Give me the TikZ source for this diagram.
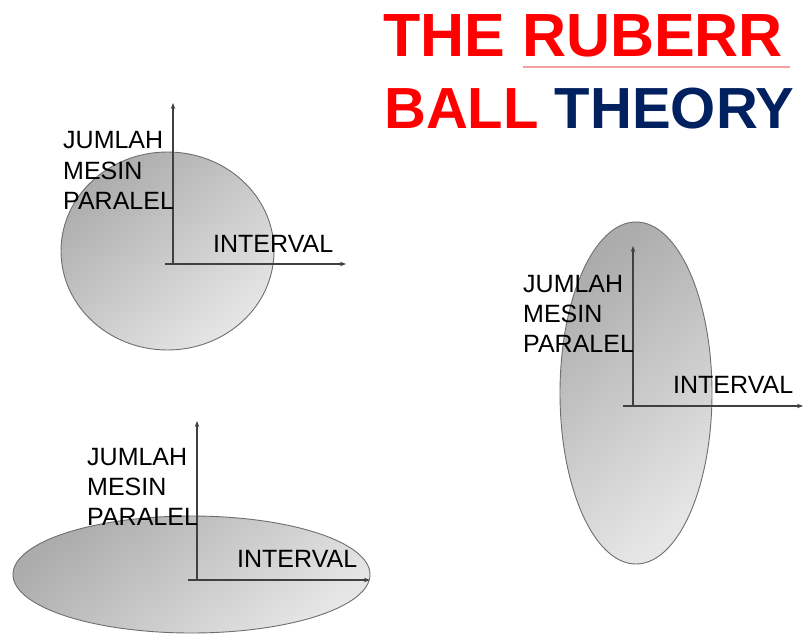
\documentclass[tikz,border=0pt]{standalone}
\usepackage{fontspec}
\setmainfont{Liberation Sans}
\usetikzlibrary{arrows.meta}
\definecolor{titlered}{RGB}{255,0,0}
\definecolor{titlenavy}{RGB}{0,32,96}
\definecolor{ulpink}{RGB}{244,160,160}
\definecolor{axisgray}{RGB}{64,64,64}
\definecolor{rimgray}{RGB}{110,110,110}
\definecolor{balldark}{RGB}{172,172,172}
\definecolor{balllight}{RGB}{230,230,230}
\tikzset{
  ball/.style={draw=rimgray, line width=0.9pt, top color=balldark, bottom color=balllight, shading angle=40},
  axis/.style={draw=axisgray, line width=1.2pt, -{Stealth[length=6pt,width=4.5pt]}},
  axisbase/.style={draw=axisgray, line width=1.2pt},
  lbl/.style={anchor=base west, inner sep=0pt, font=\fontsize{25}{30}\selectfont, text=black},
  ttl/.style={anchor=base west, inner sep=0pt, font=\fontsize{61}{70}\selectfont\bfseries},
  ttltwo/.style={anchor=base west, inner sep=0pt, font=\fontsize{58}{70}\selectfont\bfseries}
}
\begin{document}
\begin{tikzpicture}[x=1pt,y=-1pt]
\useasboundingbox (0,0) rectangle (803,634);
% title
\node[ttl, text=titlered] (t1) at (383,57) {THE RUBERR};
\node[ttltwo] (t2) at (384,128) {\textcolor{titlered}{BALL} \textcolor{titlenavy}{THEORY}};
\coordinate (u1) at (523,67);
\coordinate (u2) at (790,67);
\draw[ulpink, line width=1.4pt] (u1) -- (u2);

% ball 1 (round)
\shade[ball] (167.5,251) ellipse [x radius=106.5, y radius=99];
\coordinate (o1) at (173,264);
\coordinate (s1) at (165,264);
\coordinate (y1) at (173,103);
\coordinate (x1) at (346,264);
\draw[axisbase] (s1) -- (o1);
\draw[axis] (o1) -- (y1);
\draw[axis] (o1) -- (x1);
\node[lbl] (a1) at (63,148) {JUMLAH};
\node[lbl] (b1) at (63,179) {MESIN};
\node[lbl] (c1) at (63,209) {PARALEL};
\node[lbl] (d1) at (213,252) {INTERVAL};

% ball 2 (tall)
\shade[ball] (636,393) ellipse [x radius=76, y radius=171];
\coordinate (o2) at (633,406);
\coordinate (s2) at (623,406);
\coordinate (y2) at (633,246);
\coordinate (x2) at (803,406);
\draw[axisbase] (s2) -- (o2);
\draw[axis] (o2) -- (y2);
\draw[axis] (o2) -- (x2);
\node[lbl] (a2) at (523,292) {JUMLAH};
\node[lbl] (b2) at (523,322) {MESIN};
\node[lbl] (c2) at (523,352) {PARALEL};
\node[lbl] (d2) at (673,393) {INTERVAL};

% ball 3 (flat)
\shade[ball] (191.5,574.5) ellipse [x radius=178.5, y radius=58.5];
\coordinate (o3) at (197,580);
\coordinate (s3) at (188,580);
\coordinate (y3) at (197,421);
\coordinate (x3) at (370,580);
\draw[axisbase] (s3) -- (o3);
\draw[axis] (o3) -- (y3);
\draw[axis] (o3) -- (x3);
\node[lbl] (a3) at (87,465) {JUMLAH};
\node[lbl] (b3) at (87,495) {MESIN};
\node[lbl] (c3) at (87,525) {PARALEL};
\node[lbl] (d3) at (237,567) {INTERVAL};
\end{tikzpicture}
\end{document}
